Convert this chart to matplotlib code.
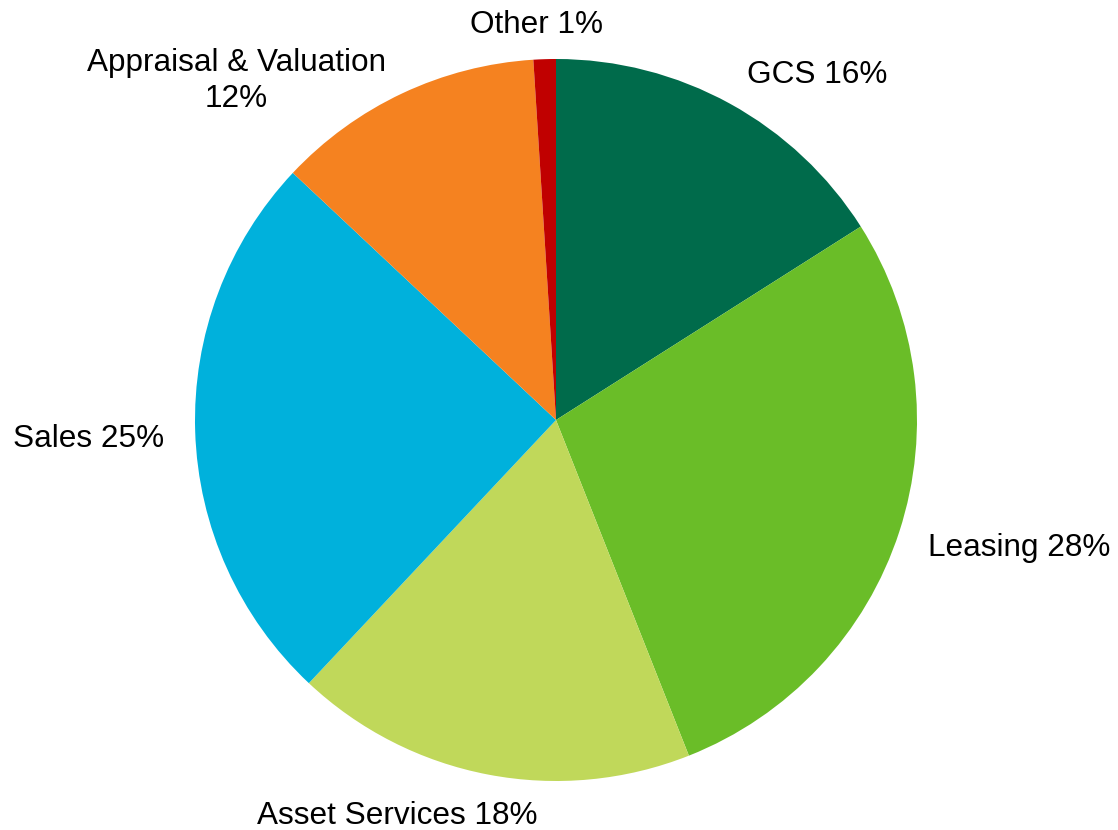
import matplotlib
matplotlib.use("Agg")
import matplotlib.pyplot as plt
import numpy as np

plt.rcParams['font.family'] = ['Liberation Sans', 'DejaVu Sans']

categories = ["GCS", "Leasing", "Asset Services", "Sales", "Appraisal & Valuation", "Other"]
values = [16, 28, 18, 25, 12, 1]
label_texts = ["GCS 16%", "Leasing 28%", "Asset Services 18%", "Sales 25%",
               "Appraisal & Valuation\n12%", "Other 1%"]
colors = ["#006B4B", "#6ABD28", "#C0D85A", "#00B1DC", "#F58220", "#C00000"]

# label placement tweaks (data units, relative to default pie label anchor)
label_dx = [0.0, -0.015, -0.234, 0.015, -0.418, -0.02]
label_dy = [-0.007, -0.014, -0.016, -0.018, -0.056, -0.005]
label_ha = ["left", "left", "center", "right", "center", "center"]

W, H = 1118, 830
fig = plt.figure(figsize=(W / 100, H / 100), dpi=100)
ax = fig.add_axes([0, 0, 1, 1])

cx, cy, R = 556, 420, 361
wedges, texts = ax.pie(values, labels=label_texts, colors=colors, startangle=90,
                       counterclock=False, labeldistance=1.1,
                       wedgeprops=dict(linewidth=0),
                       textprops=dict(fontsize=22.7, color="black"))
for t, dx, dy, ha in zip(texts, label_dx, label_dy, label_ha):
    x, y = t.get_position()
    t.set_position((x + dx, y + dy))
    t.set_ha(ha)
    t.set_multialignment("center")
    t.set_va("center")
    t.set_linespacing(1.25)

ax.set_xlim(-cx / R, (W - cx) / R)
ax.set_ylim(-(H - cy) / R, cy / R)
ax.set_aspect("auto")
ax.axis("off")
fig.savefig("out.png", dpi=100)
